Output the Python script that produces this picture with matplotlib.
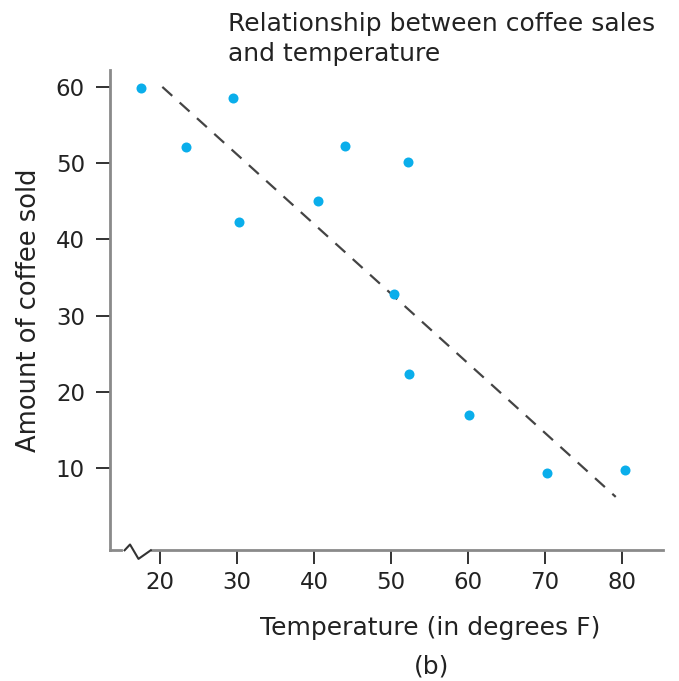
import matplotlib
matplotlib.use("Agg")
import matplotlib.pyplot as plt

# Coffee sales vs temperature
temperature = [17.5, 23.4, 29.5, 30.3, 40.5, 44.0, 52.2, 50.4, 52.3, 60.1, 70.3, 80.4]
coffee_sold = [59.9, 52.1, 58.6, 42.3, 45.0, 52.3, 50.1, 32.8, 22.3, 16.9, 9.4, 9.7]

# Trend line end points
trend_x = [20.3, 79.2]
trend_y = [60.0, 6.2]

x_ticks = [20, 30, 40, 50, 60, 70, 80]
y_ticks = [10, 20, 30, 40, 50, 60]

plt.rcParams['font.family'] = ['DejaVu Sans']

fig = plt.figure(figsize=(6.79, 6.81), dpi=100)
ax = fig.add_axes([0.162, 0.192, 0.814, 0.705])

ax.scatter(temperature, coffee_sold, s=52, color="#0AAEEB", zorder=3, linewidths=0)
ax.plot(trend_x, trend_y, color="#444444", linestyle=(0, (6, 4.5)), linewidth=1.6)

ax.set_xlim(13.5, 85.3)
ax.set_ylim(-0.8, 62.2)
ax.set_xticks(x_ticks)
ax.set_yticks(y_ticks)
ax.tick_params(axis="both", labelsize=16.5, colors="#222222", length=10, width=1.3)
ax.tick_params(axis="x", pad=5)
ax.tick_params(axis="y", pad=8)

for side in ["top", "right"]:
    ax.spines[side].set_visible(False)
for side in ["left", "bottom"]:
    ax.spines[side].set_color("#8a8a8a")
    ax.spines[side].set_linewidth(2)

# axis break on the x axis
trans = ax.get_xaxis_transform()
ax.plot([15.4, 18.6], [0, 0], color="white", linewidth=3, transform=trans,
        clip_on=False, zorder=4)
brk_x = [15.4, 16.1, 17.2, 18.8]
brk_y = [0.0, 0.012, -0.018, 0.0]
ax.plot(brk_x, brk_y, color="#333333", linewidth=1.5, transform=trans,
        clip_on=False, zorder=5)

ax.set_ylabel("Amount of coffee sold", fontsize=18.5, color="#222222", labelpad=10)
ax.set_xlabel("Temperature (in degrees F)", fontsize=18, color="#222222")
ax.xaxis.set_label_coords(0.58, -0.137)

fig.text(0.336, 0.982, "Relationship between coffee sales\nand temperature", fontsize=18,
         color="#222222", ha="left", va="top", linespacing=1.3)
fig.text(0.636, 0.022, "(b)", fontsize=18, color="#222222", ha="center", va="center")

fig.savefig("out.png", dpi=100)
